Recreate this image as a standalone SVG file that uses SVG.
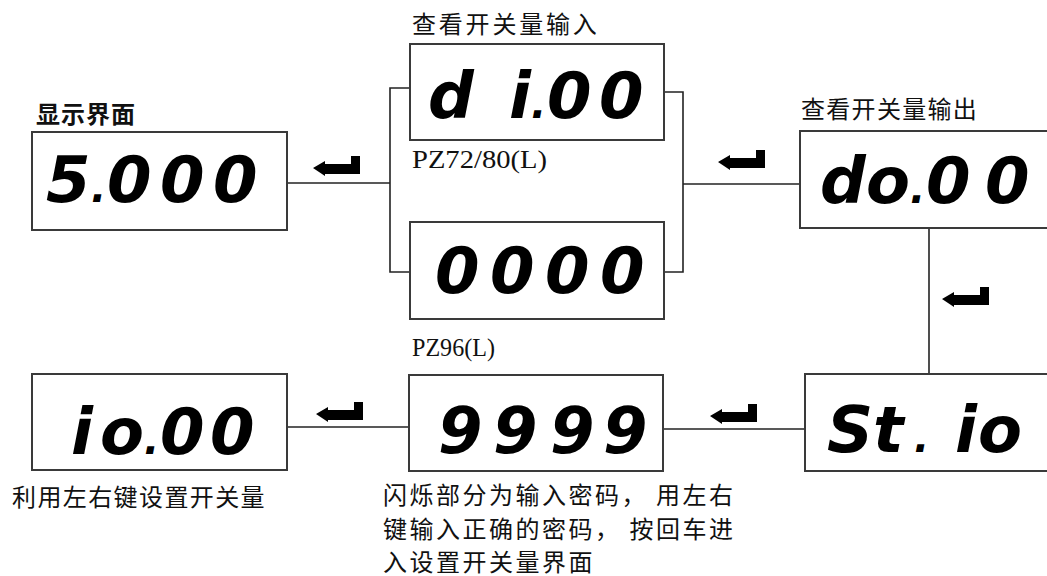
<svg xmlns="http://www.w3.org/2000/svg" width="1047" height="576" viewBox="0 0 1047 576">
<style>
.box{fill:#fff;stroke:#3a3a3a;stroke-width:2}
.ln{fill:none;stroke:#222;stroke-width:1.6}
.seg{font-family:"DejaVu Sans",sans-serif;font-weight:bold;font-style:oblique;font-size:64px;fill:#000}
.dot{font-size:40px}
.cn{font-family:"Noto Sans CJK SC",sans-serif;font-size:24px;fill:#111}
.pz{font-family:"Liberation Serif","Noto Sans CJK SC",serif;font-size:25px;fill:#111}
</style>
<defs>
<path id="enter" d="M0,0 L12,-7 L12,-4 L38,-4 L38,-12 L47,-12 L47,6 L12,6 L12,8 Z" fill="#000"/>
</defs>
<rect width="1047" height="576" fill="#fff"/>
<g id="connectors">
<path class="ln" d="M287,183 H390"/>
<path class="ln" d="M410,88 H390 V272 H410"/>
<path class="ln" d="M664,92 H683 V272 H664"/>
<path class="ln" d="M683,184 H800"/>
<path class="ln" d="M929,228 V374"/>
<path class="ln" d="M663,429 H805"/>
<path class="ln" d="M287,427 H409"/>
<use href="#enter" x="313" y="168"/>
<use href="#enter" x="718" y="162"/>
<use href="#enter" x="942" y="299"/>
<use href="#enter" x="710" y="416"/>
<use href="#enter" x="316" y="414"/>
</g>
<g id="display-main">
<text class="cn" x="36" y="123" font-weight="bold" letter-spacing="1">显示界面</text>
<rect class="box" x="32" y="132" width="255" height="98"/>
<text class="seg" y="202"><tspan x="46">5</tspan><tspan class="dot" x="91">.</tspan><tspan x="107">0</tspan><tspan x="160">0</tspan><tspan x="213">0</tspan></text>
</g>
<g id="di-input">
<text class="cn" x="412" y="33" letter-spacing="2.8">查看开关量输入</text>
<rect class="box" x="410" y="44" width="254" height="96"/>
<text class="seg" y="118"><tspan x="428">d</tspan><tspan x="509">i</tspan><tspan class="dot" x="531">.</tspan><tspan x="547">0</tspan><tspan x="599">0</tspan></text>
<text class="pz" x="412" y="168" textLength="135" lengthAdjust="spacingAndGlyphs">PZ72/80(L)</text>
</g>
<g id="di-input-96">
<rect class="box" x="410" y="222" width="254" height="97"/>
<text class="seg" y="293"><tspan x="435">0</tspan><tspan x="490">0</tspan><tspan x="545">0</tspan><tspan x="600">0</tspan></text>
<text class="pz" x="412" y="356" textLength="83" lengthAdjust="spacingAndGlyphs">PZ96(L)</text>
</g>
<g id="do-output">
<text class="cn" x="801" y="118" letter-spacing="1.3">查看开关量输出</text>
<rect class="box" x="800" y="131" width="260" height="97"/>
<text class="seg" y="203"><tspan x="820">d</tspan><tspan x="866">o</tspan><tspan class="dot" x="910">.</tspan><tspan x="926">0</tspan><tspan x="985">0</tspan></text>
</g>
<g id="st-io">
<rect class="box" x="805" y="374" width="255" height="97"/>
<text class="seg" y="452"><tspan x="827">S</tspan><tspan x="873">t</tspan><tspan class="dot" x="914">.</tspan><tspan x="955">i</tspan><tspan x="978">o</tspan></text>
</g>
<g id="password">
<rect class="box" x="409" y="375" width="254" height="96"/>
<text class="seg" y="453"><tspan x="438">9</tspan><tspan x="493">9</tspan><tspan x="550">9</tspan><tspan x="603">9</tspan></text>
<text class="cn" letter-spacing="2.5"><tspan x="383" y="504">闪烁部分为输入密码， 用左右</tspan><tspan x="383" y="538">键输入正确的密码， 按回车进</tspan><tspan x="383" y="571">入设置开关量界面</tspan></text>
</g>
<g id="io-set">
<rect class="box" x="32" y="374" width="255" height="96"/>
<text class="seg" y="454"><tspan x="71">i</tspan><tspan x="100">o</tspan><tspan class="dot" x="144">.</tspan><tspan x="160">0</tspan><tspan x="210">0</tspan></text>
<text class="cn" x="12" y="506" letter-spacing="1.4">利用左右键设置开关量</text>
</g>
</svg>
